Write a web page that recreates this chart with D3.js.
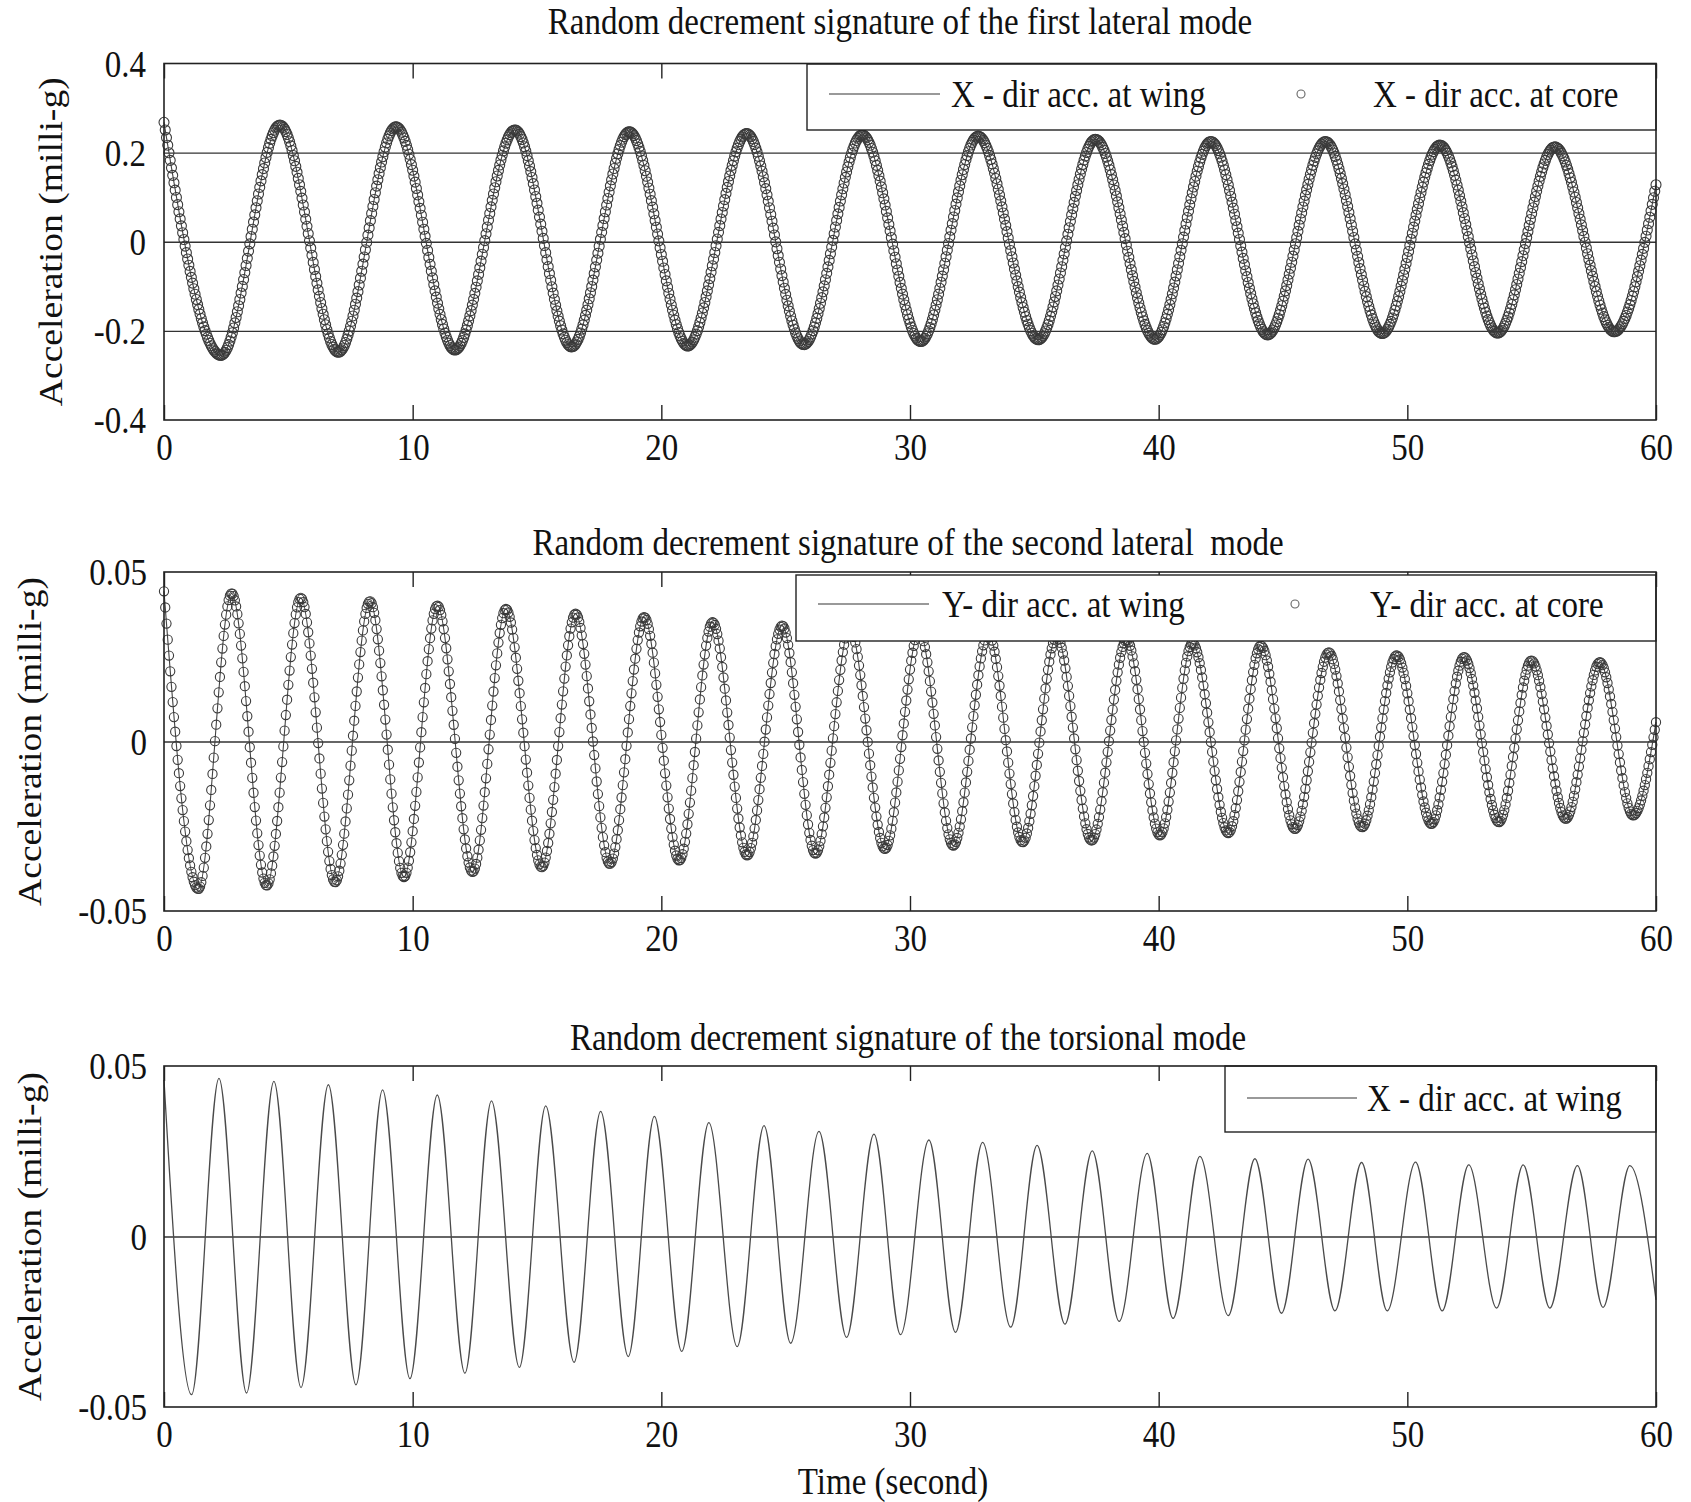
<!DOCTYPE html>
<html><head><meta charset="utf-8">
<script src="https://cdn.jsdelivr.net/npm/d3@7"></script>
<style>
html,body{margin:0;padding:0;background:#fff;}
svg{display:block;background:#fff;}
text{font-family:"Liberation Serif","Times New Roman",serif;fill:#111;white-space:pre;}
</style></head><body>
<svg id="chart" width="1691" height="1502"></svg>
<script>
// ---------------- DATA (extrema: time s, acceleration milli-g) ----------------
const timeTicks = [0, 10, 20, 30, 40, 50, 60];
const timeTickLabels = ["0", "10", "20", "30", "40", "50", "60"];

// Panel 1 : first lateral mode
const p1Title = "Random decrement signature of the first lateral mode";
const p1Time = [0, 2.29, 4.66, 7.01, 9.33, 11.70, 14.11, 16.39, 18.71, 21.06, 23.43, 25.73, 28.08, 30.43, 32.74, 35.16, 37.46, 39.85, 42.10, 44.38, 46.71, 48.99, 51.31, 53.63, 55.93, 58.32, 60];
const p1Wing = [0.268, -0.255, 0.262, -0.248, 0.258, -0.243, 0.251, -0.236, 0.247, -0.234, 0.243, -0.231, 0.240, -0.224, 0.237, -0.220, 0.230, -0.219, 0.225, -0.209, 0.225, -0.206, 0.217, -0.205, 0.213, -0.202, 0.128];
const p1Core = [0.268, -0.255, 0.262, -0.248, 0.258, -0.243, 0.251, -0.236, 0.247, -0.234, 0.243, -0.231, 0.240, -0.224, 0.237, -0.220, 0.230, -0.219, 0.225, -0.209, 0.225, -0.206, 0.217, -0.205, 0.213, -0.202, 0.128];
const p1YTicks = [-0.4, -0.2, 0, 0.2, 0.4];
const p1YTickLabels = ["-0.4", "-0.2", "0", "0.2", "0.4"];
const p1Legend = ["X - dir acc. at wing", "X - dir acc. at core"];

// Panel 2 : second lateral mode
const p2Title = "Random decrement signature of the second lateral  mode";
const p2Time = [0, 1.38, 2.72, 4.13, 5.50, 6.88, 8.28, 9.65, 10.99, 12.41, 13.75, 15.19, 16.55, 17.93, 19.31, 20.72, 22.06, 23.45, 24.86, 26.20, 27.58, 28.99, 30.37, 31.74, 33.15, 34.53, 35.90, 37.30, 38.71, 40.05, 41.36, 42.80, 44.11, 45.48, 46.84, 48.18, 49.57, 50.97, 52.28, 53.68, 54.99, 56.37, 57.74, 59.08, 60];
const p2Wing = [0.0443, -0.0435, 0.0437, -0.0425, 0.0424, -0.0415, 0.0414, -0.0400, 0.0401, -0.0385, 0.0391, -0.0371, 0.0377, -0.0361, 0.0367, -0.0351, 0.0352, -0.0336, 0.0342, -0.0331, 0.0335, -0.0317, 0.0326, -0.0307, 0.0318, -0.0297, 0.0310, -0.0292, 0.0300, -0.0277, 0.0290, -0.0270, 0.0283, -0.0258, 0.0263, -0.0253, 0.0254, -0.0243, 0.0249, -0.0238, 0.0239, -0.0228, 0.0234, -0.0218, 0.0057];
const p2Core = [0.0443, -0.0435, 0.0437, -0.0425, 0.0424, -0.0415, 0.0414, -0.0400, 0.0401, -0.0385, 0.0391, -0.0371, 0.0377, -0.0361, 0.0367, -0.0351, 0.0352, -0.0336, 0.0342, -0.0331, 0.0335, -0.0317, 0.0326, -0.0307, 0.0318, -0.0297, 0.0310, -0.0292, 0.0300, -0.0277, 0.0290, -0.0270, 0.0283, -0.0258, 0.0263, -0.0253, 0.0254, -0.0243, 0.0249, -0.0238, 0.0239, -0.0228, 0.0234, -0.0218, 0.0057];
const p2YTicks = [-0.05, 0, 0.05];
const p2YTickLabels = ["-0.05", "0", "0.05"];
const p2Legend = ["Y- dir acc. at wing", "Y- dir acc. at core"];

// Panel 3 : torsional mode
const p3Title = "Random decrement signature of the torsional mode";
const p3Time = [0, 1.11, 2.21, 3.32, 4.42, 5.51, 6.61, 7.72, 8.79, 9.89, 10.99, 12.10, 13.17, 14.29, 15.35, 16.49, 17.56, 18.67, 19.72, 20.82, 21.91, 23.05, 24.13, 25.20, 26.34, 27.45, 28.55, 29.62, 30.76, 31.83, 32.92, 34.05, 35.11, 36.23, 37.33, 38.41, 39.54, 40.58, 41.66, 42.80, 43.87, 44.94, 46.01, 47.09, 48.16, 49.19, 50.33, 51.40, 52.47, 53.59, 54.66, 55.73, 56.84, 57.87, 58.95, 60];
const p3Wing = [0.0459, -0.0464, 0.0464, -0.0459, 0.0455, -0.0443, 0.0445, -0.0435, 0.0430, -0.0417, 0.0415, -0.0401, 0.0398, -0.0384, 0.0383, -0.0369, 0.0367, -0.0352, 0.0352, -0.0337, 0.0334, -0.0323, 0.0325, -0.0313, 0.0308, -0.0296, 0.0300, -0.0288, 0.0283, -0.0281, 0.0276, -0.0266, 0.0267, -0.0257, 0.0251, -0.0249, 0.0244, -0.0240, 0.0235, -0.0232, 0.0228, -0.0225, 0.0227, -0.0218, 0.0217, -0.0218, 0.0218, -0.0218, 0.0210, -0.0210, 0.0210, -0.0210, 0.0208, -0.0208, 0.0208, -0.0186];
const p3YTicks = [-0.05, 0, 0.05];
const p3YTickLabels = ["-0.05", "0", "0.05"];
const p3Legend = ["X - dir acc. at wing"];

const xAxisLabel = "Time (second)";
const yAxisLabel = "Acceleration (milli-g)";
const coreSampleInterval = 0.05; // s, sampling of the core record markers

// ---------------- LAYOUT / STYLE ----------------
const X0 = 164, X1 = 1656;
const FS = 33, SY = 1.14;
const INK = "#222";

const panels = [
  { top: 63.5, bottom: 420, domain: [-0.4, 0.4], yTicks: p1YTicks, yLabels: p1YTickLabels, grid: [-0.2, 0, 0.2],
    title: p1Title, titleX: 900, titleY: 34, yLabX: 62, tickLabDx: -18,
    t: p1Time, wing: p1Wing, core: p1Core, r: 5, legendText: p1Legend,
    legend: { x: 807, y: 64, lineX0: 829, lineX1: 940, midY: 94, text1X: 951, circX: 1301, text2X: 1373 } },
  { top: 572, bottom: 911, domain: [-0.05, 0.05], yTicks: p2YTicks, yLabels: p2YTickLabels, grid: [0],
    title: p2Title, titleX: 908, titleY: 555, yLabX: 41, tickLabDx: -17,
    t: p2Time, wing: p2Wing, core: p2Core, r: 4.6, legendText: p2Legend,
    legend: { x: 796, y: 575, lineX0: 818, lineX1: 929, midY: 604, text1X: 942, circX: 1295, text2X: 1370 } },
  { top: 1066, bottom: 1407, domain: [-0.05, 0.05], yTicks: p3YTicks, yLabels: p3YTickLabels, grid: [0],
    title: p3Title, titleX: 908, titleY: 1050, yLabX: 41, tickLabDx: -17,
    t: p3Time, wing: p3Wing, core: null, r: 0, legendText: p3Legend,
    legend: { x: 1225, y: 1066, lineX0: 1247, lineX1: 1357, midY: 1098, text1X: 1367 } }
];

const svg = d3.select("#chart");

function addText(parent, x, y, str, anchor, rotate) {
  return parent.append("text")
    .attr("transform", `translate(${x},${y}) scale(1,${SY})${rotate ? " rotate(-90)" : ""}`)
    .attr("text-anchor", anchor || "start")
    .style("font-size", FS + "px")
    .text(str);
}

function sampleAtX(pathNode, xs) {
  const L = pathNode.getTotalLength();
  const n = Math.ceil(L / 0.75);
  const tx = new Float64Array(n + 1), ty = new Float64Array(n + 1);
  for (let i = 0; i <= n; i++) {
    const pt = pathNode.getPointAtLength(L * i / n);
    tx[i] = pt.x; ty[i] = pt.y;
  }
  let j = 0; const out = [];
  for (const xv of xs) {
    while (j < n - 1 && tx[j + 1] < xv) j++;
    const a = tx[j], b = tx[j + 1];
    let f = b > a ? (xv - a) / (b - a) : 0;
    f = Math.max(0, Math.min(1, f));
    out.push([xv, ty[j] + (ty[j + 1] - ty[j]) * f]);
  }
  return out;
}

const x = d3.scaleLinear().domain([0, 60]).range([X0, X1]);

panels.forEach(p => {
  const g = svg.append("g");
  const y = d3.scaleLinear().domain(p.domain).range([p.bottom, p.top]);
  const W = X1 - X0;

  // grid lines
  g.append("g").attr("transform", `translate(${X0},0)`)
    .call(d3.axisLeft(y).tickValues(p.grid).tickSize(-W).tickFormat(""))
    .call(s => { s.select(".domain").remove(); s.selectAll("line").attr("stroke", "#333").attr("stroke-width", 1.4); });

  // y tick labels
  g.append("g").attr("transform", `translate(${X0},0)`)
    .call(d3.axisLeft(y).tickValues(p.yTicks).tickSize(0).tickFormat((d, i) => p.yLabels[i]))
    .call(s => {
      s.select(".domain").remove();
      s.selectAll("text").attr("x", null).attr("dy", null).attr("fill", "#111")
        .attr("transform", `translate(${p.tickLabDx},12.5) scale(1,${SY})`)
        .style("font-size", FS + "px");
    });

  // x axis bottom (inward ticks + labels)
  g.append("g").attr("transform", `translate(0,${p.bottom})`)
    .call(d3.axisBottom(x).tickValues(timeTicks).tickSize(-15).tickFormat((d, i) => timeTickLabels[i]))
    .call(s => {
      s.select(".domain").remove();
      s.selectAll("line").attr("stroke", INK).attr("stroke-width", 1.4);
      s.selectAll("text").attr("y", null).attr("dy", null).attr("fill", "#111")
        .attr("transform", `translate(0,40) scale(1,${SY})`)
        .style("font-size", FS + "px");
    });
  // x axis top (inward ticks)
  g.append("g").attr("transform", `translate(0,${p.top})`)
    .call(d3.axisTop(x).tickValues(timeTicks).tickSize(-15).tickFormat(""))
    .call(s => { s.select(".domain").remove(); s.selectAll("line").attr("stroke", INK).attr("stroke-width", 1.4); });

  // wing record : line
  const line = d3.line().x(d => x(d[0])).y(d => y(d[1])).curve(d3.curveMonotoneX);
  g.append("path").datum(d3.zip(p.t, p.wing))
    .attr("d", line).attr("fill", "none")
    .attr("stroke", p.core ? "#444" : "#4a4a4a").attr("stroke-width", p.core ? 1.1 : 1.3);

  // core record : circle markers sampled along its curve
  if (p.core) {
    const helper = g.append("path").datum(d3.zip(p.t, p.core)).attr("d", line)
      .attr("fill", "none").attr("stroke", "none");
    const xs = d3.range(0, 60 + 1e-9, coreSampleInterval).map(t => x(t));
    const pts = sampleAtX(helper.node(), xs);
    helper.remove();
    g.append("g").selectAll("circle").data(pts).join("circle")
      .attr("cx", d => d[0]).attr("cy", d => d[1]).attr("r", p.r)
      .attr("fill", "none").attr("stroke", "#3a3a3a").attr("stroke-width", 1.1);
  }

  // legend
  const L = p.legend;
  const lg = g.append("g");
  lg.append("rect").attr("x", L.x).attr("y", L.y).attr("width", X1 - L.x).attr("height", 66)
    .attr("fill", "#fff").attr("stroke", INK).attr("stroke-width", 1.4);
  lg.append("line").attr("x1", L.lineX0).attr("x2", L.lineX1).attr("y1", L.midY).attr("y2", L.midY)
    .attr("stroke", "#777").attr("stroke-width", 1.4);
  addText(lg, L.text1X, L.midY + 12.5, p.legendText[0]);
  if (p.legendText.length > 1) {
    lg.append("circle").attr("cx", L.circX).attr("cy", L.midY).attr("r", 4)
      .attr("fill", "none").attr("stroke", "#666").attr("stroke-width", 1.1);
    addText(lg, L.text2X, L.midY + 12.5, p.legendText[1]);
  }

  // box
  g.append("rect").attr("x", X0).attr("y", p.top).attr("width", W).attr("height", p.bottom - p.top)
    .attr("fill", "none").attr("stroke", INK).attr("stroke-width", 1.6);

  // title and y label
  addText(g, p.titleX, p.titleY, p.title, "middle");
  addText(g, p.yLabX, (p.top + p.bottom) / 2, yAxisLabel, "middle", true);
});

addText(svg, 893, 1494, xAxisLabel, "middle");
</script>
</body></html>
